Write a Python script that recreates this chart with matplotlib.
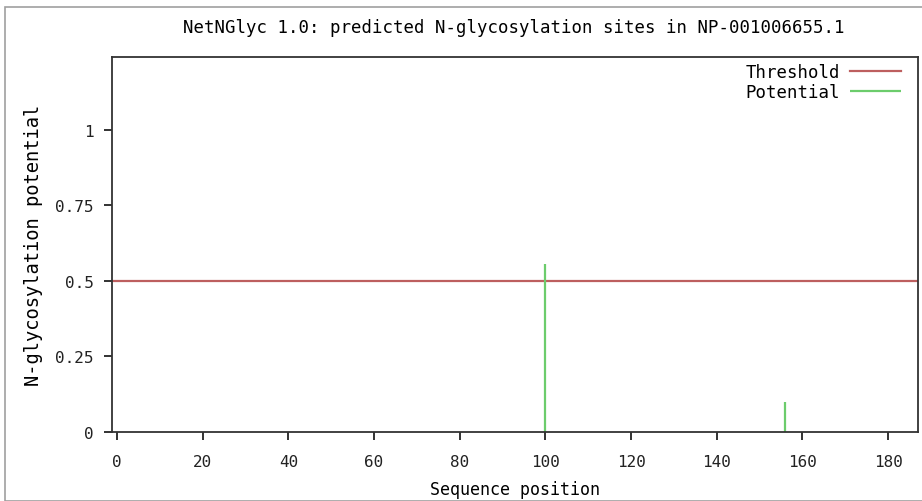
import matplotlib
matplotlib.use("Agg")
import matplotlib.pyplot as plt
from matplotlib.patches import Rectangle

title = "NetNGlyc 1.0: predicted N-glycosylation sites in NP-001006655.1"
site_positions = [100, 156]
site_potentials = [0.555, 0.098]
threshold = 0.5
seq_length = 187
xticks = [0, 20, 40, 60, 80, 100, 120, 140, 160, 180]
yticks = [0, 0.25, 0.5, 0.75, 1]
ytick_labels = ["0", "0.25", "0.5", "0.75", "1"]

plt.rcParams['font.family'] = ['DejaVu Sans Mono']

fig = plt.figure(figsize=(9.22, 5.02), dpi=100)
fig.patches.append(Rectangle((5/922, 0), 1, 1 - 8/502, transform=fig.transFigure,
                             fill=False, edgecolor='#a0a0a0', linewidth=1.2))
ax = fig.add_axes([112/922, (502-433)/502, (918-112)/922, (433-58)/502])

ax.axhline(threshold, color='#bd5f5f', linewidth=1.6, label='Threshold')
ax.vlines(site_positions, 0, site_potentials, color='#6ccc6c', linewidth=1.6, label='Potential')

ax.set_xlim(-1.2, seq_length)
ax.set_ylim(0, 1.24)
ax.set_xticks(xticks)
ax.set_yticks(yticks)
ax.set_yticklabels(ytick_labels)
ax.tick_params(direction='out', length=6, width=1.3, labelsize=11.5, colors='#222222')
ax.tick_params(axis='x', pad=10)
ax.tick_params(axis='y', pad=7)
for s in ax.spines.values():
    s.set_linewidth(1.3)
    s.set_color('#333333')

ax.set_xlabel("Sequence position", fontsize=12, labelpad=8)
ax.set_ylabel("N-glycosylation potential", fontsize=13.5, labelpad=9)
fig.text(514/922, 1 - 28/502, title, ha='center', va='center', fontsize=12.5)

leg = ax.legend(loc='upper right', bbox_to_anchor=(1.0, 1.03), frameon=False,
                markerfirst=False, fontsize=12.5, handlelength=2.9, borderaxespad=0.6,
                labelspacing=0.1, handletextpad=0.6)

fig.savefig("out.png", dpi=100)
